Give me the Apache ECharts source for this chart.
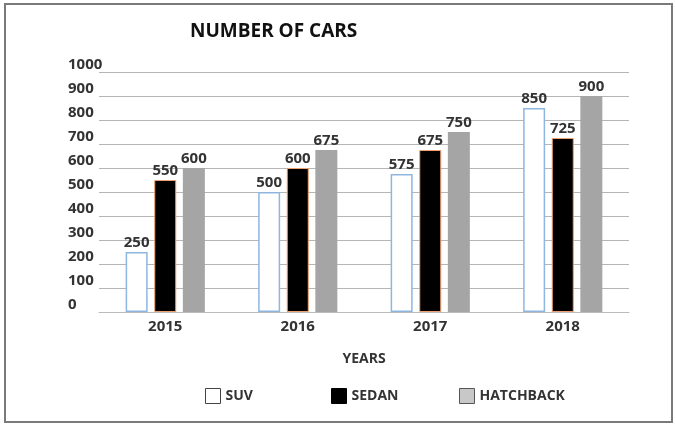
<!DOCTYPE html>
<html>
<head>
<meta charset="utf-8">
<script src="https://cdn.jsdelivr.net/npm/echarts@6/dist/echarts.min.js"></script>
<style>
  html, body { margin: 0; padding: 0; background: #fff; }
  #chart { width: 675px; height: 425px; }
</style>
</head>
<body>
<div id="chart"></div>
<script>
// Car counts per year by body type
const years = ['2015', '2016', '2017', '2018'];
const suv = [250, 500, 575, 850];
const sedan = [550, 600, 675, 725];
const hatchback = [600, 675, 750, 900];
const yTicks = [0, 100, 200, 300, 400, 500, 600, 700, 800, 900, 1000];

const FONT = '"Open Sans", "DejaVu Sans", sans-serif';
const chart = echarts.init(document.getElementById('chart'));

const labelStyle = {
  show: true,
  position: 'top',
  distance: 2,
  fontFamily: FONT,
  fontWeight: 'bold',
  fontSize: 15,
  color: '#333'
};

const legendText = { fontFamily: FONT, fontWeight: 'bold', fontSize: 14, color: '#333' };
function legendFor(name, left, style) {
  return {
    left: left,
    bottom: 16,
    itemWidth: 15,
    itemHeight: 15,
    itemGap: 10,
    icon: 'rect',
    textStyle: legendText,
    data: [{ name: name, itemStyle: style }]
  };
}

chart.setOption({
  animation: false,
  backgroundColor: '#fff',
  title: {
    text: 'NUMBER OF CARS',
    left: 185,
    top: 17,
    textStyle: { fontFamily: FONT, fontWeight: 'bold', fontSize: 19, color: '#111' }
  },
  graphic: [{
    type: 'rect',
    shape: { x: 5, y: 4, width: 667, height: 418 },
    style: { fill: 'none', stroke: '#7a7a7a', lineWidth: 2 },
    silent: true
  }],
  legend: [
    legendFor('SUV', 200, { color: '#fff', borderColor: '#444', borderWidth: 1 }),
    legendFor('SEDAN', 326, { color: '#000', borderColor: '#000', borderWidth: 1 }),
    legendFor('HATCHBACK', 454, { color: '#c8c8c8', borderColor: '#555', borderWidth: 1 })
  ],
  grid: { left: 99, right: 46, top: 72, bottom: 113 },
  xAxis: {
    type: 'category',
    data: years,
    name: 'YEARS',
    nameLocation: 'middle',
    nameGap: 40,
    nameTextStyle: { fontFamily: FONT, fontWeight: 'bold', fontSize: 14, color: '#333' },
    axisLine: { show: true, lineStyle: { color: '#bbb' } },
    axisTick: { show: false },
    axisLabel: { fontFamily: FONT, fontWeight: 'bold', fontSize: 15, color: '#333', margin: 7 }
  },
  yAxis: {
    type: 'value',
    min: yTicks[0],
    max: yTicks[yTicks.length - 1],
    interval: 100,
    axisLine: { show: false },
    axisTick: { show: false },
    axisLabel: {
      align: 'left',
      verticalAlign: 'bottom',
      margin: 31,
      formatter: v => String(v),
      fontFamily: FONT, fontWeight: 'bold', fontSize: 15, color: '#333'
    },
    splitLine: { lineStyle: { color: '#b5b5b5', width: 1 } }
  },
  series: [
    {
      name: 'SUV', type: 'bar', data: suv,
      barWidth: 22, barGap: '30%',
      itemStyle: { color: '#fff', borderColor: '#8fb6df', borderWidth: 1.5 },
      label: labelStyle
    },
    {
      name: 'SEDAN', type: 'bar', data: sedan,
      barWidth: 22, barGap: '30%',
      itemStyle: { color: '#000', borderColor: '#f0a070', borderWidth: 1 },
      label: labelStyle
    },
    {
      name: 'HATCHBACK', type: 'bar', data: hatchback,
      barWidth: 22, barGap: '30%',
      itemStyle: { color: '#a5a5a5' },
      label: labelStyle
    }
  ]
});
</script>
</body>
</html>
